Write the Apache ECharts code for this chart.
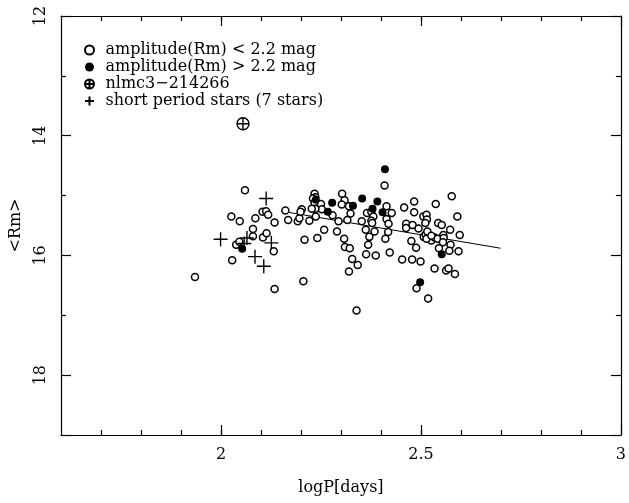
<!DOCTYPE html>
<html>
<head>
<meta charset="utf-8">
<script src="https://cdn.jsdelivr.net/npm/echarts@6/dist/echarts.min.js"></script>
<style>html,body{margin:0;padding:0;background:#fff}#c{width:629px;height:503px}</style>
</head>
<body>
<div id="c"></div>
<script>
// ---- data ----
const openStars = [
 [1.935,16.36],[2.060,14.91],[2.026,15.35],[2.047,15.43],[2.086,15.38],[2.104,15.27],[2.113,15.26],
 [2.118,15.32],[2.134,15.45],[2.080,15.56],[2.080,15.68],[2.105,15.70],[2.114,15.63],[2.038,15.82],
 [2.046,15.77],[2.028,16.08],[2.132,15.93],[2.134,16.56],[2.206,16.43],[2.209,15.74],[2.241,15.71],
 [2.258,15.57],[2.161,15.25],[2.168,15.41],[2.192,15.43],[2.196,15.38],[2.202,15.23],[2.199,15.27],
 [2.221,15.42],[2.237,15.35],[2.234,14.97],[2.236,15.03],[2.230,15.05],[2.234,15.12],[2.250,15.14],
 [2.252,15.23],[2.236,15.22],[2.227,15.22],
 [2.303,14.97],[2.309,15.08],[2.302,15.15],[2.320,15.18],[2.324,15.30],[2.279,15.33],[2.316,15.41],
 [2.294,15.43],[2.290,15.60],[2.308,15.72],[2.310,15.86],
 [2.365,15.29],[2.376,15.27],[2.381,15.35],[2.376,15.42],[2.378,15.46],[2.352,15.43],[2.362,15.57],
 [2.384,15.60],[2.371,15.69],[2.368,15.82],
 [2.411,15.72],[2.418,15.61],[2.414,15.39],[2.419,15.47],[2.417,15.28],[2.427,15.29],[2.414,15.18],[2.409,14.83],
 [2.458,15.20],[2.483,15.10],[2.483,15.28],[2.463,15.47],[2.463,15.54],[2.479,15.49],[2.494,15.55],
 [2.476,15.76],[2.488,15.87],
 [2.506,15.35],[2.514,15.32],[2.515,15.40],[2.511,15.46],[2.507,15.69],[2.512,15.65],[2.516,15.60],
 [2.526,15.75],[2.514,15.72],
 [2.537,15.14],[2.577,15.01],[2.591,15.35],[2.543,15.46],[2.552,15.49],[2.573,15.57],[2.534,15.70],
 [2.526,15.67],[2.542,15.72],[2.556,15.66],[2.557,15.71],[2.555,15.78],[2.597,15.66],[2.574,15.82],
 [2.322,15.88],[2.328,16.06],[2.342,16.16],[2.320,16.27],[2.339,16.92],[2.363,15.98],[2.387,16.00],
 [2.422,15.95],[2.453,16.07],[2.478,16.07],[2.499,16.10],
 [2.489,16.55],[2.518,16.72],[2.534,16.22],[2.563,16.25],[2.569,16.22],[2.585,16.31],[2.545,15.88],
 [2.571,15.92],[2.594,15.93]
];
const filledStars = [
 [2.053,15.89],[2.237,15.07],[2.267,15.27],[2.278,15.12],[2.330,15.17],[2.353,15.05],
 [2.391,15.10],[2.379,15.22],[2.404,15.28],[2.410,14.56],[2.498,16.45],[2.552,15.98]
];
const specialStar = [[2.055,13.80]];
const shortPeriodStars = [
 [1.999,15.73],[2.065,15.71],[2.113,15.05],[2.126,15.79],[2.085,16.02],[2.107,16.18],[2.058,15.80]
];
const fitLine = [[2.151,15.26],[2.699,15.88]];

const seriesNames = [
 'amplitude(Rm) < 2.2 mag',
 'amplitude(Rm) > 2.2 mag',
 'nlmc3\u2212214266',
 'short period stars (7 stars)'
];
const xMajorTicks = [2, 2.5, 3];
const xMinorTicks = [1.7,1.8,1.9,2.0,2.1,2.2,2.3,2.4,2.5,2.6,2.7,2.8,2.9];
const yRange = [12, 19];
const xRange = [1.6, 3];

// ---- chart ----
const FONT = 'DejaVu Serif';
const black = '#000';
const lineStyle = {color: black, width: 1.2, opacity: 1};
const PLUS = 'path://M0,6 L12,6 M6,0 L6,12';
const OPLUS = 'path://M12,6 A6,6 0 1 1 0,6 A6,6 0 1 1 12,6 Z M0,6 L12,6 M6,0 L6,12';

function xAx(pos, major, showLabel, name) {
  return {
    type: 'value', position: pos, min: xRange[0], max: xRange[1],
    axisLine: {show: !major, onZero: false, lineStyle},
    axisTick: {show: true, inside: true, length: major ? 10 : 5,
               customValues: major ? xMajorTicks : xMinorTicks, lineStyle},
    axisLabel: {show: showLabel, customValues: xMajorTicks, margin: 12,
                color: black, fontFamily: FONT, fontSize: 16,
                formatter: v => String(Math.round(v * 10) / 10)},
    splitLine: {show: false},
    name: name || '', nameLocation: 'middle', nameGap: 45,
    nameTextStyle: {color: black, fontFamily: FONT, fontSize: 16}
  };
}
function yAx(pos, showLabel, name) {
  return {
    type: 'value', position: pos, min: yRange[0], max: yRange[1], interval: 2, inverse: true,
    axisLine: {show: true, onZero: false, lineStyle},
    axisTick: {show: true, inside: true, length: 10, lineStyle},
    minorTick: {show: true, splitNumber: 2, length: 5, lineStyle},
    axisLabel: {show: showLabel, rotate: 90, margin: 12, color: black, fontFamily: FONT, fontSize: 16,
                showMaxLabel: false,
                formatter: v => (v % 2 === 0 ? String(v) : '')},
    splitLine: {show: false}, minorSplitLine: {show: false},
    name: name || '', nameLocation: 'middle', nameGap: 37, nameRotate: 90,
    nameTextStyle: {color: black, fontFamily: FONT, fontSize: 16}
  };
}

const chart = echarts.init(document.getElementById('c'), null, {renderer: 'canvas'});
chart.setOption({
  backgroundColor: '#fff',
  animation: false,
  grid: {left: 61, right: 3, top: 16, bottom: 68, containLabel: false},
  legend: {
    orient: 'vertical', left: 79, top: 37, itemWidth: 22, itemHeight: 9, itemGap: 1,
    selectedMode: false,
    textStyle: {color: black, fontFamily: FONT, fontSize: 16},
    data: seriesNames
  },
  xAxis: [
    xAx('bottom', false, true, 'logP[days]'),
    xAx('bottom', true, false),
    xAx('top', false, false),
    xAx('top', true, false)
  ],
  yAxis: [
    yAx('left', true, '<Rm>'),
    yAx('right', false)
  ],
  series: [
    {name: seriesNames[0], type: 'scatter', data: openStars, symbol: 'circle', symbolSize: 7,
     itemStyle: {color: '#fff', borderColor: black, borderWidth: 1.5, opacity: 1}, silent: true},
    {name: seriesNames[1], type: 'scatter', data: filledStars, symbol: 'circle', symbolSize: 8,
     itemStyle: {color: black, borderColor: black, borderWidth: 0, opacity: 1}, silent: true},
    {name: seriesNames[2], type: 'scatter', data: specialStar, symbol: OPLUS, symbolSize: 12,
     symbolKeepAspect: true,
     itemStyle: {color: 'rgba(0,0,0,0)', borderColor: black, borderWidth: 1.4, opacity: 1}, silent: true},
    {name: seriesNames[3], type: 'scatter', data: shortPeriodStars, symbol: PLUS, symbolSize: 14,
     symbolKeepAspect: true,
     itemStyle: {color: 'rgba(0,0,0,0)', borderColor: black, borderWidth: 1.4, opacity: 1}, silent: true},
    {name: 'fit', type: 'line', data: fitLine, showSymbol: false, symbol: 'none',
     lineStyle: {color: black, width: 1}, silent: true, z: 1}
  ]
});
</script>
</body>
</html>
